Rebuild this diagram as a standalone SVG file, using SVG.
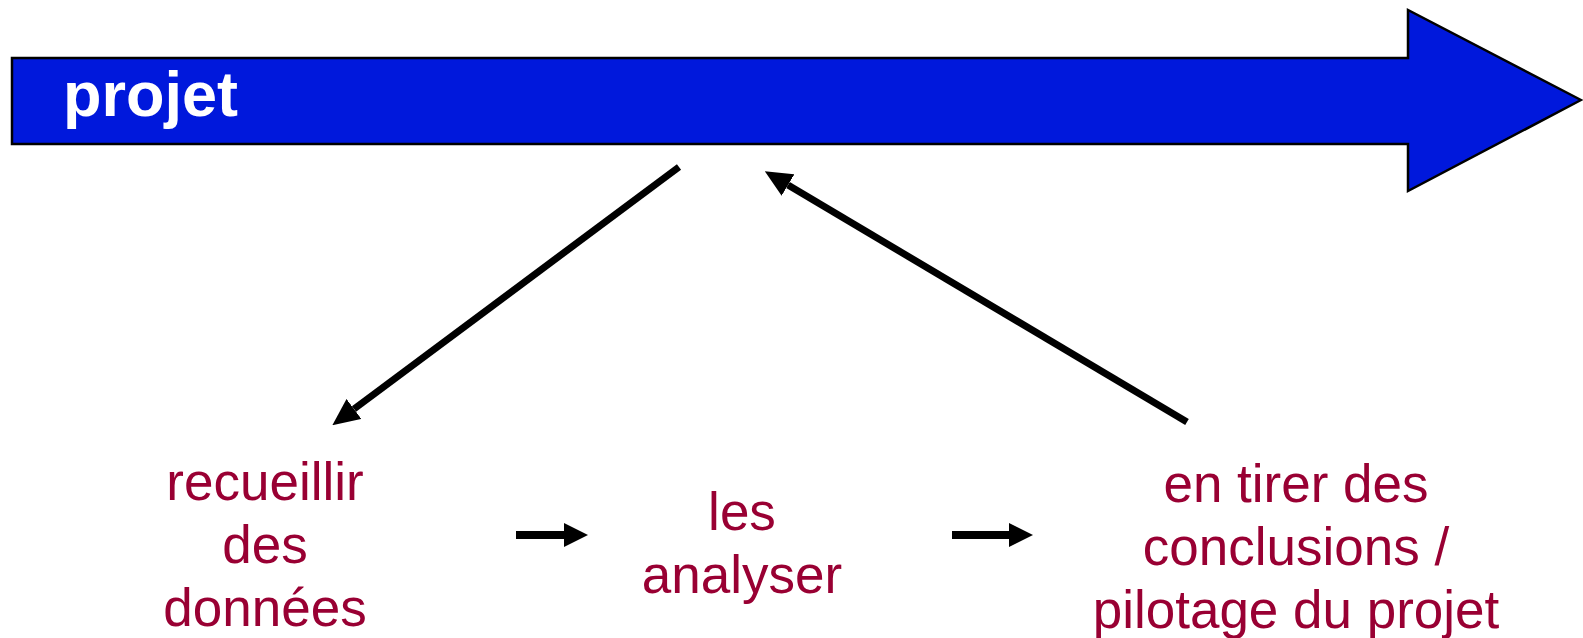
<svg xmlns="http://www.w3.org/2000/svg" width="1583" height="638" viewBox="0 0 1583 638">
<style>
.lbl{font-family:"Liberation Sans",Arial,sans-serif;font-size:53px;fill:#990033;text-anchor:middle}
.title{font-family:"Liberation Sans",Arial,sans-serif;font-size:63px;font-weight:bold;fill:#ffffff}
.conn{stroke:#000;stroke-width:7;fill:none}
.step{stroke:#000;stroke-width:8;fill:none}
</style>
<defs>
<marker id="head" markerUnits="userSpaceOnUse" markerWidth="27" markerHeight="25" refX="0" refY="12.5" orient="auto">
<path d="M0,0 L27,12.5 L0,25 z" fill="#000"/>
</marker>
<marker id="small" markerUnits="userSpaceOnUse" markerWidth="24" markerHeight="24" refX="0" refY="12" orient="auto">
<path d="M0,0 L24,12 L0,24 z" fill="#000"/>
</marker>
</defs>
<g id="projet">
<polygon points="12,58 1408,58 1408,10 1581,100 1408,191 1408,144 12,144" fill="#0018dc" stroke="#000" stroke-width="2.5"/>
<text class="title" x="63" y="116">projet</text>
</g>
<g id="recueillir">
<text class="lbl" x="265" y="500">recueillir</text>
<text class="lbl" x="265" y="563">des</text>
<text class="lbl" x="265" y="626">données</text>
</g>
<g id="analyser">
<text class="lbl" x="742" y="530">les</text>
<text class="lbl" x="742" y="593">analyser</text>
</g>
<g id="conclusions">
<text class="lbl" x="1296" y="502">en tirer des</text>
<text class="lbl" x="1296" y="565">conclusions /</text>
<text class="lbl" x="1296" y="628">pilotage du projet</text>
</g>
<g id="connectors">
<line class="conn" x1="679" y1="167" x2="354" y2="409" marker-end="url(#head)"/>
<line class="conn" x1="1187" y1="422" x2="788" y2="185" marker-end="url(#head)"/>
<line class="step" x1="516" y1="535" x2="564" y2="535" marker-end="url(#small)"/>
<line class="step" x1="952" y1="535" x2="1009" y2="535" marker-end="url(#small)"/>
</g>
</svg>
